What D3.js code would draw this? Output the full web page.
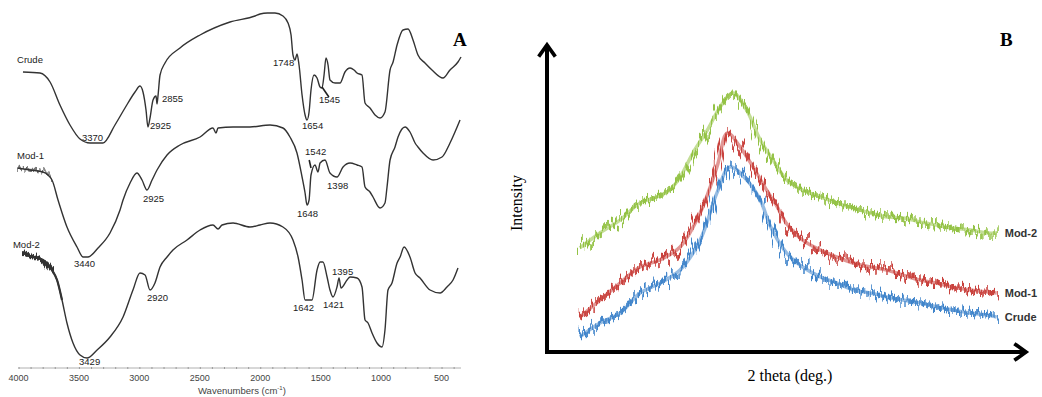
<!DOCTYPE html>
<html>
<head>
<meta charset="utf-8">
<script src="https://cdn.jsdelivr.net/npm/d3@7"></script>
<style>
  body { margin: 0; background: #fff; }
  svg { display: block; }
</style>
</head>
<body>
<svg id="fig" width="1042" height="397"></svg>
<script>
// ---- panel A : FTIR, [wavenumber cm-1, transmittance a.u.] ----
const crudeIR = [[3963,298],[3822,297],[3739,288],[3657,265],[3574,245],[3491,231],[3408,227],[3301,227],[3202,245],[3119,262],[3036,278],[2995,284],[2970,278],[2945,260],[2929,243],[2912,252],[2887,270],[2862,274],[2854,266],[2846,274],[2829,295],[2788,307],[2664,322],[2498,335],[2250,348],[2043,354],[2002,356],[1940,357],[1878,357],[1812,354],[1770,347],[1745,335],[1729,315],[1712,310],[1696,316],[1679,305],[1654,275],[1629,255],[1613,250],[1596,258],[1580,280],[1555,295],[1530,292],[1505,283],[1489,282],[1472,295],[1456,312],[1439,305],[1423,290],[1381,287],[1340,287],[1299,298],[1257,302],[1224,300],[1199,297],[1158,295],[1133,267],[1092,262],[1050,255],[1009,252],[968,258],[926,300],[901,308],[868,325],[819,340],[777,341],[736,330],[695,315],[637,307],[579,300],[488,292],[430,300],[364,308],[339,313]];
const mod1IR = [[4010,202],[3905,200],[3797,198],[3723,190],[3673,170],[3599,143],[3516,123],[3466,113],[3425,113],[3342,122],[3243,137],[3160,160],[3135,170],[3077,187],[3020,197],[2978,190],[2937,180],[2895,190],[2854,200],[2771,215],[2664,225],[2498,233],[2391,242],[2366,237],[2349,242],[2225,243],[2085,243],[1919,245],[1812,242],[1754,233],[1696,217],[1654,193],[1629,177],[1613,165],[1596,170],[1580,195],[1547,205],[1522,198],[1505,207],[1464,210],[1423,197],[1365,193],[1315,203],[1257,207],[1199,205],[1158,203],[1133,183],[1092,178],[1067,173],[1009,162],[968,167],[951,183],[926,210],[885,223],[860,233],[802,243],[761,238],[719,227],[695,223],[653,217],[570,210],[496,213],[430,227],[347,250]];
const mod2IR = [[3963,117],[3880,113],[3797,110],[3723,100],[3681,90],[3640,70],[3599,47],[3549,27],[3491,15],[3433,12],[3350,20],[3243,33],[3135,53],[3053,80],[2995,97],[2953,95],[2912,80],[2871,87],[2829,103],[2771,113],[2722,120],[2606,130],[2498,140],[2391,145],[2349,141],[2316,145],[2225,147],[2085,143],[2002,145],[1919,147],[1812,143],[1729,130],[1687,113],[1654,90],[1629,70],[1572,70],[1530,100],[1505,108],[1481,108],[1447,93],[1423,80],[1398,73],[1365,83],[1348,92],[1332,82],[1282,90],[1257,93],[1199,92],[1158,83],[1133,50],[1108,47],[1075,37],[1034,27],[992,23],[968,40],[943,80],[910,87],[868,107],[843,113],[810,123],[761,113],[719,97],[678,92],[595,80],[512,77],[455,83],[405,90],[364,102]];

const irTicks = [4000, 3500, 3000, 2500, 2000, 1500, 1000, 500];
const irNames = ["Crude", "Mod-1", "Mod-2"];
// peak labels: [text, wavenumber at label start, value at baseline]
const crudePeaks = [["3370",3475,229],["2925",2912,241],["2855",2813,268],["1748",1894,304],["1654",1654,241],["1545",1514,267]];
const mod1Peaks = [["3440",3541,103],["2925",2970,168],["1648",1696,153],["1542",1629,215],["1398",1447,181]];
const mod2Peaks = [["3429",3499,5],["2920",2937,69],["1642",1729,59],["1421",1481,62],["1395",1406,95]];

// ---- panel B : XRD, [2 theta, intensity a.u.] ----
const crudeXRD = [[4.1,4.9],[6.6,9.4],[9.1,12.6],[11.6,19.1],[14.1,22.3],[16.6,26.5],[19.1,36.2],[21.2,51.5],[22.8,59.9],[24.9,55.7],[26.6,49.2],[27.9,40.5],[29.9,32.0],[31.9,27.5],[34.1,24.3],[36.2,22.3],[38.2,20.1],[40.3,19.1],[42.4,17.8],[44.4,16.8],[46.5,15.9],[48.6,14.6],[50.6,13.6],[52.8,12.6],[54.9,12.0],[56.1,11.3]];
const mod1XRD = [[4.1,11.3],[6.6,16.8],[9.1,22.3],[11.6,27.5],[14.1,29.8],[16.6,34.0],[19.1,45.0],[21.2,59.9],[22.5,70.9],[24.1,66.3],[25.7,59.9],[27.4,52.4],[28.6,47.5],[29.9,41.5],[31.9,36.2],[34.1,33.0],[36.2,30.7],[38.2,28.8],[40.3,27.5],[42.4,26.5],[44.4,24.9],[46.5,23.3],[48.6,22.3],[50.6,21.0],[52.8,20.1],[54.9,19.4],[56.1,19.1]];
const mod2XRD = [[4.1,33.7],[6.6,38.5],[9.1,42.7],[11.6,48.2],[13.7,50.2],[15.3,52.4],[16.6,56.6],[18.2,64.4],[20.0,71.8],[21.6,79.3],[23.2,83.8],[24.9,78.3],[26.6,68.6],[28.2,62.1],[29.9,55.7],[31.9,52.4],[34.1,50.2],[36.2,48.2],[38.2,46.6],[40.3,45.0],[42.4,43.7],[44.4,43.4],[46.5,42.1],[48.6,41.1],[50.6,40.1],[52.8,39.5],[54.9,38.5],[56.1,38.5]];
const xrdNames = ["Crude", "Mod-1", "Mod-2"];
const xrdColors = ["#4185cb", "#c9423e", "#93c244"];

const svg = d3.select('#fig');
const defs = svg.append('defs');

// jagged look for noisy traces (pure rendering effect)
function jitterFilter(id, seed, freq, amount, spread) {
  const f = defs.append('filter').attr('id', id)
    .attr('x', '-5%').attr('y', '-30%').attr('width', '110%').attr('height', '160%');
  f.append('feTurbulence').attr('type', 'fractalNoise')
    .attr('baseFrequency', freq).attr('numOctaves', 1).attr('seed', seed).attr('result', 'n');
  f.append('feDisplacementMap').attr('in', 'SourceGraphic').attr('in2', 'n')
    .attr('scale', amount).attr('xChannelSelector', 'G').attr('yChannelSelector', 'R').attr('result', 'd');
  f.append('feMorphology').attr('in', 'd').attr('operator', 'dilate').attr('radius', spread);
}
jitterFilter('jit1', 3, '0.45 0.01', 25, '0 1.6');
jitterFilter('jitIR', 5, '0.5 0.02', 12, '0 1');

const mk = defs.append('marker').attr('id', 'arr')
  .attr('viewBox', '0 0 12 12').attr('refX', 9).attr('refY', 6)
  .attr('markerWidth', 5).attr('markerHeight', 5).attr('orient', 'auto')
  .attr('markerUnits', 'strokeWidth');
mk.append('path').attr('d', 'M2,1 L9,6 L2,11').attr('fill', 'none')
  .attr('stroke', '#000').attr('stroke-width', 2.2).attr('stroke-linecap', 'butt');

// ================= panel A =================
const xA = d3.scaleLinear().domain([4000, 339]).range([18.5, 461]);
const yA = d3.scaleLinear().domain([0, 370]).range([370, 0]);
const gA = svg.append('g').attr('font-family', 'Liberation Sans, Arial, sans-serif');

// axis
const axA = d3.axisBottom(xA).tickValues(d3.range(4000, 339, -100)).tickSize(2).tickFormat('');
const axG = gA.append('g').attr('transform', 'translate(0,368)').call(axA);
axG.select('.domain').attr('stroke', '#b0b0b0').attr('d', 'M18.5,0H461');
axG.selectAll('.tick line').attr('stroke', '#999').attr('y1', -1).attr('y2', 1);
gA.append('g').selectAll('text').data(irTicks).join('text')
  .attr('x', d => xA(d)).attr('y', 381).attr('text-anchor', 'middle')
  .attr('font-size', 9).attr('fill', '#444').text(d => d);
const xl = gA.append('text').attr('x', 198).attr('y', 394).attr('font-size', 9.5).attr('fill', '#444');
xl.append('tspan').text('Wavenumbers (cm');
xl.append('tspan').attr('font-size', 6).attr('dy', -4).text('-1');
xl.append('tspan').attr('dy', 4).text(')');

const lineA = d3.line().x(d => xA(d[0])).y(d => yA(d[1])).curve(d3.curveMonotoneX);
const irSets = [crudeIR, mod1IR, mod2IR];
irSets.forEach(s => {
  gA.append('path').datum(s).attr('d', lineA)
    .attr('fill', 'none').attr('stroke', '#333').attr('stroke-width', 1.4);
});
// noisy beginnings of the Mod-1 and Mod-2 traces
gA.append('path').datum(mod2IR.filter(d => d[0] > 3690)).attr('d', lineA)
  .attr('fill', 'none').attr('stroke', '#333').attr('stroke-width', 2.5).attr('filter', 'url(#jitIR)');
gA.append('path').datum(mod2IR.filter(d => d[0] > 3600)).attr('d', lineA)
  .attr('fill', 'none').attr('stroke', '#333').attr('stroke-width', 2.2);
gA.append('path').datum(mod1IR.filter(d => d[0] > 3700)).attr('d', lineA)
  .attr('fill', 'none').attr('stroke', '#333').attr('stroke-width', 1).attr('filter', 'url(#jitIR)')
  .attr('opacity', 0.8);

// little marker strokes at the shoulders
gA.append('line').attr('x1', xA(1489)).attr('y1', yA(283)).attr('x2', xA(1432)).attr('y2', yA(273))
  .attr('stroke', '#222').attr('stroke-width', 1.6);
gA.append('line').attr('x1', xA(1595)).attr('y1', yA(210)).attr('x2', xA(1580)).attr('y2', yA(202))
  .attr('stroke', '#222').attr('stroke-width', 1.6);

// peak labels
[crudePeaks, mod1Peaks, mod2Peaks].forEach(p => {
  gA.append('g').selectAll('text').data(p).join('text')
    .attr('x', d => xA(d[1])).attr('y', d => yA(d[2]))
    .attr('font-size', 9.5).attr('fill', '#222').text(d => d[0]);
});
// trace names
const nameY = [307, 211, 122];
const nameW = [4012, 4012, 4046];
gA.append('g').selectAll('text').data(irNames).join('text')
  .attr('x', (d, i) => xA(nameW[i])).attr('y', (d, i) => yA(nameY[i]))
  .attr('font-size', 9.5).attr('fill', '#222').text(d => d);

svg.append('text').attr('x', 453).attr('y', 46).attr('font-family', 'Liberation Serif, Times New Roman, serif')
  .attr('font-weight', 'bold').attr('font-size', 19).text('A');

// ================= panel B =================
const xB = d3.scaleLinear().domain([0, 60]).range([547, 1028]);
const yB = d3.scaleLinear().domain([0, 100]).range([352, 43]);
const gB = svg.append('g');

const lineB = d3.line().x(d => xB(d[0])).y(d => yB(d[1])).curve(d3.curveCatmullRom.alpha(0.5));
const xrdSets = [crudeXRD, mod1XRD, mod2XRD];
xrdSets.forEach((s, i) => {
  gB.append('path').datum(s).attr('d', lineB)
    .attr('fill', 'none').attr('stroke', xrdColors[i]).attr('stroke-width', 3.5).attr('opacity', 0.55);
  gB.append('path').datum(s).attr('d', lineB)
    .attr('fill', 'none').attr('stroke', xrdColors[i]).attr('stroke-width', 1.3)
    .attr('filter', 'url(#jit1)');
  const last = s[s.length - 1];
  gB.append('text').attr('x', xB(last[0]) + 8).attr('y', yB(last[1]) + 4)
    .attr('font-family', 'Liberation Sans, Arial, sans-serif').attr('font-weight', 'bold')
    .attr('font-size', 11).attr('fill', '#333').text(xrdNames[i]);
});

// arrows as axes
gB.append('line').attr('x1', xB(0)).attr('y1', yB(0) + 2).attr('x2', xB(0)).attr('y2', yB(100) + 2)
  .attr('stroke', '#000').attr('stroke-width', 4).attr('marker-end', 'url(#arr)');
gB.append('line').attr('x1', xB(0) - 2).attr('y1', yB(0)).attr('x2', xB(60) - 2).attr('y2', yB(0))
  .attr('stroke', '#000').attr('stroke-width', 4).attr('marker-end', 'url(#arr)');

gB.append('text').attr('transform', 'translate(522,203) rotate(-90)').attr('text-anchor', 'middle')
  .attr('font-family', 'Liberation Serif, Times New Roman, serif').attr('font-size', 16).text('Intensity');
gB.append('text').attr('x', 790).attr('y', 381).attr('text-anchor', 'middle')
  .attr('font-family', 'Liberation Serif, Times New Roman, serif').attr('font-size', 16).text('2 theta (deg.)');
svg.append('text').attr('x', 1000).attr('y', 46).attr('font-family', 'Liberation Serif, Times New Roman, serif')
  .attr('font-weight', 'bold').attr('font-size', 19).text('B');
</script>
</body>
</html>
